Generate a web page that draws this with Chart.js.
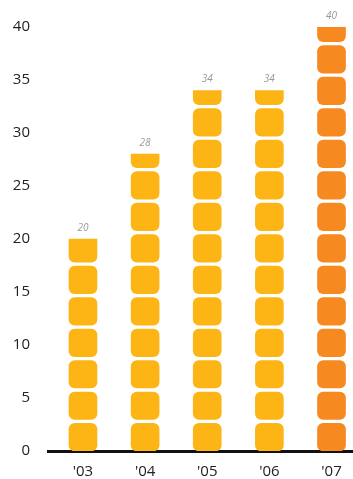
<!DOCTYPE html>
<html>
<head>
  <meta name="viewport" content="width=device-width, initial-scale=1.0">
  <title>Blocks per year</title>
  <script src="https://cdn.jsdelivr.net/npm/chart.js"></script>
  <style>
    body {
      margin: 0;
      padding: 0;
      background: #fff;
    }
    canvas {
      display: block;
    }
  </style>
</head>
<body>
  <canvas id="myChart" width="353" height="479"></canvas>

  <script>
    // data
    const years = ["'03", "'04", "'05", "'06", "'07"];
    const values = [20, 28, 34, 34, 40];
    const yTicks = [0, 5, 10, 15, 20, 25, 30, 35, 40];

    // look
    const colors = ['#FDB515', '#FDB515', '#FDB515', '#FDB515', '#F6891F'];
    const SEG = 2.97;  // units per block
    const FILL = 2.6;  // coloured part of a block, the rest is the gap
    const R = 6;
    const font = 'Open Sans';

    // one dataset per layer of blocks, floating bars [from, to]
    const nLayers = Math.ceil(Math.max(...values) / SEG);
    const datasets = [];
    for (let i = 0; i < nLayers; i++) {
      const lo = i * SEG;
      const data = [];
      values.forEach((v, k) => {
        if (v > lo) data.push({ x: k, y: [lo, Math.min(v, lo + FILL)], top: v < lo + FILL });
      });
      datasets.push({
        data: data,
        backgroundColor: ctx => colors[ctx.raw ? ctx.raw.x : 0],
        borderWidth: 0,
        borderSkipped: false,
        borderRadius: ctx => (ctx.raw && ctx.raw.top)
          ? { topLeft: 0, topRight: 0, bottomLeft: R, bottomRight: R }
          : { topLeft: R, topRight: R, bottomLeft: R, bottomRight: R },
        barThickness: 28,
        grouped: false
      });
    }

    // value above each bar
    const valueLabels = {
      id: 'valueLabels',
      afterDatasetsDraw(chart) {
        const { ctx, scales: { x, y } } = chart;
        ctx.save();
        ctx.font = 'italic 10px "' + font + '"';
        ctx.fillStyle = '#999';
        ctx.textAlign = 'center';
        ctx.textBaseline = 'middle';
        values.forEach((v, k) => {
          ctx.fillText(String(v), x.getPixelForValue(k), y.getPixelForValue(v) - 11);
        });
        ctx.restore();
      }
    };

    const chart = new Chart(document.getElementById('myChart'), {
      type: 'bar',
      data: { datasets: datasets },
      plugins: [valueLabels],
      options: {
        responsive: false,
        animation: false,
        layout: { padding: { top: 20, left: 0, right: 0, bottom: 0 } },
        plugins: {
          legend: { display: false },
          tooltip: { enabled: false }
        },
        scales: {
          x: {
            type: 'linear',
            min: -0.563,
            max: 4.346,
            offset: false,
            z: 1,
            grid: { display: false, drawTicks: false },
            border: { display: true, color: '#111', width: 3 },
            afterBuildTicks: s => { s.ticks = years.map((_, i) => ({ value: i })); },
            afterFit: s => { s.height = 28; s.paddingLeft = 0; s.paddingRight = 0; },
            ticks: {
              autoSkip: false,
              maxRotation: 0,
              padding: 12,
              color: '#222',
              font: { family: font, size: 15 },
              callback: v => years[v]
            }
          },
          y: {
            min: 0,
            max: 40,
            grid: { display: false, drawTicks: false },
            border: { display: false },
            afterBuildTicks: s => { s.ticks = yTicks.map(v => ({ value: v })); },
            afterFit: s => { s.width = 48; },
            ticks: {
              padding: 18,
              color: '#222',
              font: { family: font, size: 15 }
            }
          }
        }
      }
    });
  </script>
</body>
</html>
